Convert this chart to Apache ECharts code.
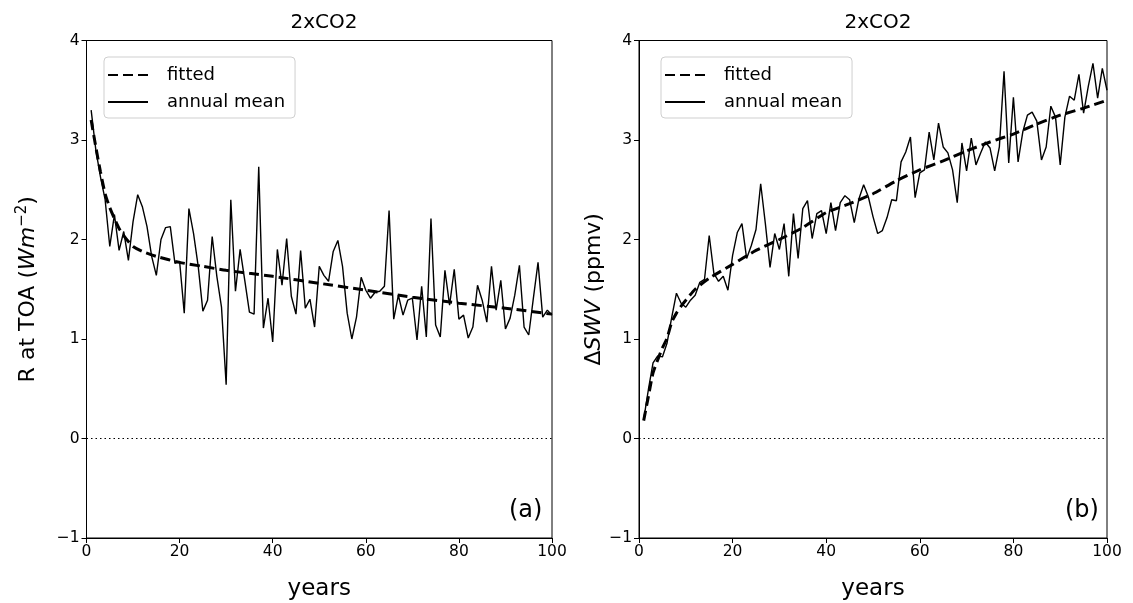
<!DOCTYPE html>
<html>
<head>
<meta charset="utf-8">
<script src="https://cdn.jsdelivr.net/npm/echarts@6/dist/echarts.min.js"></script>
<style>html,body{margin:0;padding:0;background:#fff}#c{width:1133px;height:603px}</style>
</head>
<body>
<div id="c"></div>
<script>
// ---- data ----
const panelTitles = ['2xCO2', '2xCO2'];
const xTicks = [0, 20, 40, 60, 80, 100];
const yTicks = [-1, 0, 1, 2, 3, 4];

// (a) R at TOA, annual mean, years 1..100
const leftAnnual = [
  3.30, 2.90, 2.63, 2.40, 1.93, 2.25, 1.89, 2.08, 1.79, 2.18,
  2.45, 2.33, 2.13, 1.83, 1.64, 2.00, 2.12, 2.13, 1.76, 1.78,
  1.26, 2.31, 2.06, 1.73, 1.28, 1.39, 2.03, 1.63, 1.32, 0.54,
  2.40, 1.48, 1.90, 1.59, 1.27, 1.25, 2.73, 1.11, 1.41, 0.97,
  1.90, 1.54, 2.01, 1.43, 1.25, 1.89, 1.31, 1.40, 1.12, 1.73,
  1.64, 1.58, 1.88, 1.99, 1.73, 1.26, 1.00, 1.22, 1.62, 1.49,
  1.41, 1.47, 1.48, 1.53, 2.29, 1.20, 1.44, 1.24, 1.39, 1.41,
  0.99, 1.53, 1.02, 2.21, 1.14, 1.02, 1.69, 1.34, 1.70, 1.20,
  1.24, 1.01, 1.12, 1.54, 1.39, 1.17, 1.73, 1.29, 1.59, 1.10,
  1.21, 1.44, 1.74, 1.12, 1.04, 1.41, 1.77, 1.22, 1.29, 1.24
];
// (a) fitted curve, read at these years
const leftFitYears = [1, 2, 3, 4, 5, 6, 7, 8, 9, 10, 12, 15, 20, 25, 30, 35, 40, 50, 60, 70, 80, 90, 100];
const leftFitVals  = [3.20, 2.93, 2.68, 2.46, 2.32, 2.21, 2.11, 2.04, 1.98, 1.93, 1.88, 1.83, 1.77, 1.73, 1.69, 1.66, 1.63, 1.56, 1.49, 1.42, 1.36, 1.31, 1.25];

// (b) delta SWV, annual mean, years 1..100
const rightAnnual = [
  0.19, 0.49, 0.76, 0.83, 0.82, 0.96, 1.22, 1.46, 1.36, 1.32,
  1.39, 1.44, 1.57, 1.60, 2.04, 1.66, 1.58, 1.63, 1.49, 1.84,
  2.07, 2.16, 1.81, 1.94, 2.10, 2.56, 2.16, 1.72, 2.06, 1.90,
  2.16, 1.63, 2.26, 1.81, 2.31, 2.39, 2.01, 2.26, 2.29, 2.06,
  2.37, 2.09, 2.37, 2.44, 2.40, 2.17, 2.41, 2.55, 2.43, 2.23,
  2.06, 2.09, 2.22, 2.40, 2.39, 2.78, 2.88, 3.03, 2.42, 2.67,
  2.70, 3.08, 2.80, 3.17, 2.93, 2.87, 2.70, 2.37, 2.97, 2.69,
  3.02, 2.75, 2.87, 2.98, 2.92, 2.69, 2.93, 3.69, 2.77, 3.43,
  2.78, 3.08, 3.25, 3.28, 3.19, 2.80, 2.93, 3.34, 3.23, 2.75,
  3.23, 3.44, 3.40, 3.66, 3.27, 3.54, 3.77, 3.42, 3.72, 3.50
];
const rightFitYears = [1, 2, 3, 4, 5, 6, 7, 8, 9, 10, 12, 15, 20, 25, 30, 35, 40, 45, 50, 55, 60, 65, 70, 75, 80, 85, 90, 95, 100];
const rightFitVals  = [0.18, 0.42, 0.66, 0.79, 0.91, 1.01, 1.17, 1.26, 1.33, 1.39, 1.50, 1.61, 1.75, 1.89, 2.00, 2.12, 2.27, 2.36, 2.46, 2.59, 2.70, 2.79, 2.89, 2.98, 3.06, 3.16, 3.25, 3.32, 3.40];

// ---- build ----
const FONT = 'DejaVu Sans';
const pair = (xs, ys) => xs.map((x, i) => [x, ys[i]]);
const annualPts = arr => arr.map((v, i) => [i + 1, v]);
const fmtNum = v => (v < 0 ? '\u2212' + (-v) : String(v));

function xAxis(idx) {
  return {
    gridIndex: idx, type: 'value', min: xTicks[0], max: xTicks[xTicks.length - 1],
    interval: xTicks[1] - xTicks[0],
    name: 'years', nameLocation: 'middle', nameGap: 40,
    nameTextStyle: { fontFamily: FONT, fontSize: 23, color: '#000' },
    axisLine: { show: true, onZero: false, lineStyle: { color: '#000', width: 1 } },
    axisTick: { show: true, length: 5, lineStyle: { color: '#000' } },
    axisLabel: { fontFamily: FONT, fontSize: 15.5, color: '#000', margin: 6, formatter: fmtNum },
    splitLine: { show: false }
  };
}
function yAxis(idx, name, rich, gap) {
  return {
    gridIndex: idx, type: 'value', min: yTicks[0], max: yTicks[yTicks.length - 1],
    interval: yTicks[1] - yTicks[0],
    name: name, nameLocation: 'middle', nameGap: gap, nameRotate: 90,
    nameTextStyle: { fontFamily: FONT, fontSize: 22, color: '#000', rich: rich },
    axisLine: { show: true, onZero: false, lineStyle: { color: '#000', width: 1 } },
    axisTick: { show: true, length: 5, lineStyle: { color: '#000' } },
    axisLabel: { fontFamily: FONT, fontSize: 15.5, color: '#000', margin: 7, formatter: fmtNum },
    splitLine: { show: false }
  };
}
const zeroLine = {
  silent: true, symbol: 'none', label: { show: false },
  lineStyle: { color: '#000', type: [1.5, 3], width: 1.2 },
  data: [{ yAxis: 0 }]
};
function seriesFor(idx, fitX, fitY, annual) {
  return [
    { name: 'fitted', type: 'line', xAxisIndex: idx, yAxisIndex: idx, data: pair(fitX, fitY),
      symbol: 'none', smooth: 0.2, z: 3,
      lineStyle: { color: '#000', width: 3, type: [10, 5] }, itemStyle: { color: '#000' } },
    { name: 'annual mean', type: 'line', xAxisIndex: idx, yAxisIndex: idx, data: annualPts(annual),
      symbol: 'none', z: 2,
      lineStyle: { color: '#000', width: 1.4 }, itemStyle: { color: '#000' },
      markLine: zeroLine }
  ];
}
function legend(left) {
  return {
    left: left, top: 57, orient: 'vertical', itemWidth: 40, itemHeight: 14, itemGap: 9,
    padding: [9, 10, 7, 3], backgroundColor: '#fff', borderColor: '#cfcfcf', borderWidth: 1, borderRadius: 4,
    itemStyle: { opacity: 0 },
    textStyle: { fontFamily: FONT, fontSize: 18, color: '#000', padding: [0, 0, 0, 14] },
    data: ['fitted', 'annual mean'], selectedMode: false
  };
}

const chart = echarts.init(document.getElementById('c'), null, { renderer: 'canvas' });
chart.setOption({
  animation: false,
  backgroundColor: '#fff',
  title: [
    { text: panelTitles[0], left: 319, top: 8, textAlign: 'center', textStyle: { fontFamily: FONT, fontSize: 20, fontWeight: 'normal', color: '#000' } },
    { text: panelTitles[1], left: 873, top: 8, textAlign: 'center', textStyle: { fontFamily: FONT, fontSize: 20, fontWeight: 'normal', color: '#000' } }
  ],
  grid: [
    { left: 86.5, top: 40.5, width: 465.5, height: 497.5, show: true, borderColor: '#000', borderWidth: 1, backgroundColor: 'transparent', outerBoundsMode: 'none', containLabel: false },
    { left: 639, top: 40.5, width: 468, height: 497.5, show: true, borderColor: '#000', borderWidth: 1, backgroundColor: 'transparent', outerBoundsMode: 'none', containLabel: false }
  ],
  legend: [legend(104), legend(661)],
  xAxis: [xAxis(0), xAxis(1)],
  yAxis: [
    yAxis(0, 'R at TOA ({it|Wm}{sup|\u22122})', { it: { fontFamily: FONT, fontSize: 22, fontStyle: 'italic' }, sup: { fontFamily: FONT, fontSize: 15, verticalAlign: 'top', padding: [0, 0, 13, 0] } }, 44),
    yAxis(1, '\u0394{it|SWV} (ppmv)', { it: { fontFamily: FONT, fontSize: 22, fontStyle: 'italic' } }, 29)
  ],
  graphic: [
    { type: 'text', left: 509, top: 499, style: { text: '(a)', font: '24px "DejaVu Sans"', fill: '#000' } },
    { type: 'text', left: 1065, top: 499, style: { text: '(b)', font: '24px "DejaVu Sans"', fill: '#000' } }
  ],
  series: [].concat(
    seriesFor(0, leftFitYears, leftFitVals, leftAnnual),
    seriesFor(1, rightFitYears, rightFitVals, rightAnnual)
  )
});
</script>
</body>
</html>
